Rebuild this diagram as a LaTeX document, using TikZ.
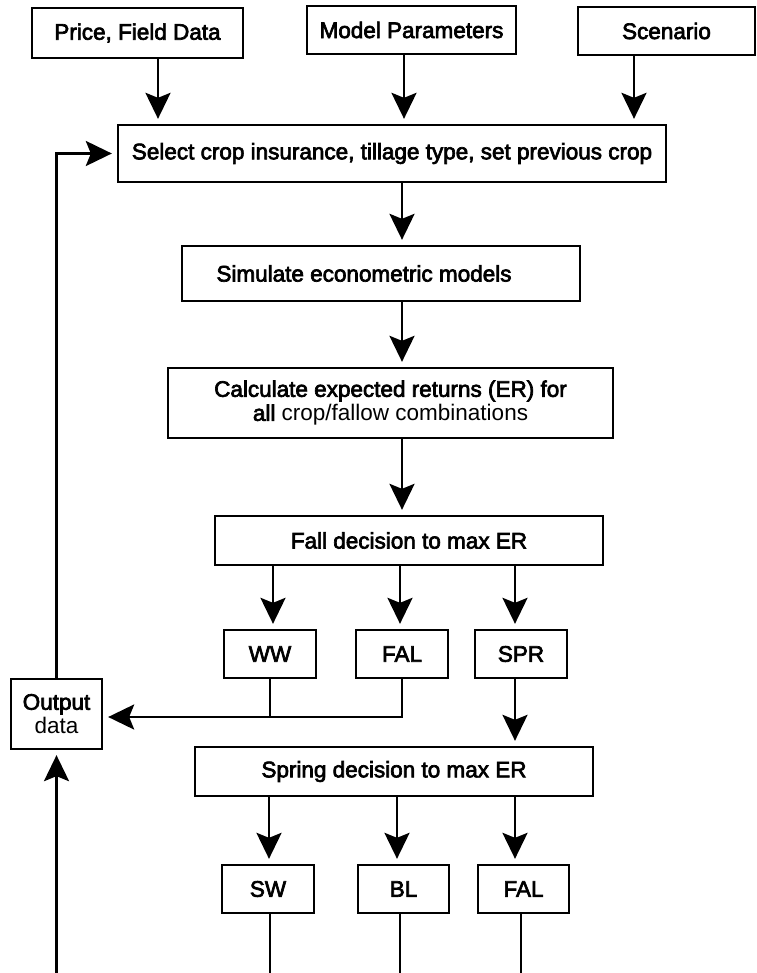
\documentclass[tikz,border=0pt]{standalone}
\usepackage{fontspec}
\setmainfont{Liberation Sans}
\newfontfamily\heavyf[FakeBold=3]{Liberation Sans}
\newfontfamily\lightf{Liberation Sans}
\usetikzlibrary{arrows.meta}
\begin{document}
\begin{tikzpicture}[x=1pt,y=-1pt,
  box/.style={draw, line width=2.3pt, inner sep=0pt, align=center,
    font=\heavyf\fontsize{22.5}{24}\selectfont},
  arr/.style={line width=2.8pt, shorten >=5pt, -{Stealth[length=26pt,width=25pt,inset=5pt]}},
  ln/.style={line width=2.8pt}]
\useasboundingbox (0,0) rectangle (756,973);
% boxes
\node[box, minimum width=211, minimum height=50] (price) at (137.5,33) {Price, Field Data};
\node[box, minimum width=209, minimum height=48] (model) at (411.5,30) {Model Parameters};
\node[box, minimum width=177, minimum height=48] (scen) at (666.5,31) {Scenario};
\node[box, minimum width=548, minimum height=57] (select) at (392,153.5) {Select crop insurance, tillage type, set previous crop};
\node[box, minimum width=398, minimum height=55] (sim) at (381,273.5) {Simulate econometric models\hspace{34pt}};
\node[box, minimum width=445, minimum height=70] (calc) at (390.5,403) {Calculate expected returns (ER) for\\all {\lightf crop/fallow combinations}};
\node[box, minimum width=388, minimum height=49] (fall) at (409,540.5) {Fall decision to max ER};
\node[box, minimum width=92, minimum height=48] (ww) at (270,654) {WW};
\node[box, minimum width=92, minimum height=48] (fal1) at (402,654) {FAL};
\node[box, minimum width=92, minimum height=48] (spr) at (521,654) {SPR};
\node[box, minimum width=91, minimum height=70] (out) at (56.5,714) {Output\\{\lightf data}};
\node[box, minimum width=398, minimum height=49] (spring) at (394,771.5) {Spring decision to max ER};
\node[box, minimum width=92, minimum height=48] (sw) at (268,889) {SW};
\node[box, minimum width=91, minimum height=48] (bl) at (403.5,889) {BL};
\node[box, minimum width=91, minimum height=48] (fal2) at (523.5,889) {FAL};
% helper coordinates
\coordinate (xp) at (158,0);
\coordinate (xm) at (404,0);
\coordinate (xs) at (634,0);
\coordinate (xc) at (402,0);
\coordinate (xf1) at (273,0);
\coordinate (xf2) at (400,0);
\coordinate (xf3) at (515,0);
\coordinate (xs1) at (269,0);
\coordinate (xs2) at (397,0);
\coordinate (xs3) at (515,0);
\coordinate (hy) at (0,717);
\coordinate (b0) at (56.5,973);
\coordinate (b1) at (270,973);
\coordinate (b2) at (400,973);
\coordinate (b3) at (521,973);
% connectors
\draw[arr] (price.south -| xp) -- (select.north -| xp);
\draw[arr] (model.south -| xm) -- (select.north -| xm);
\draw[arr] (scen.south -| xs) -- (select.north -| xs);
\draw[arr] (select.south -| xc) -- (sim.north -| xc);
\draw[arr] (sim.south -| xc) -- (calc.north -| xc);
\draw[arr] (calc.south -| xc) -- (fall.north -| xc);
\draw[arr] (fall.south -| xf1) -- (ww.north -| xf1);
\draw[arr] (fall.south -| xf2) -- (fal1.north -| xf2);
\draw[arr] (fall.south -| xf3) -- (spr.north -| xf3);
\draw[arr] (spr.south -| xf3) -- (spring.north -| xf3);
\draw[arr] (spring.south -| xs1) -- (sw.north -| xs1);
\draw[arr] (spring.south -| xs2) -- (bl.north -| xs2);
\draw[arr] (spring.south -| xs3) -- (fal2.north -| xs3);
\draw[ln] (sw.south -| b1) -- (b1);
\draw[ln] (bl.south -| b2) -- (b2);
\draw[ln] (fal2.south -| b3) -- (b3);
\draw[arr] (fal1.south) |- (out.east |- hy);
\draw[ln] (ww.south) -- (ww.south |- hy);
\draw[arr] (out.north) |- (select.west);
\draw[arr] (b0) -- (out.south);
\end{tikzpicture}
\end{document}
